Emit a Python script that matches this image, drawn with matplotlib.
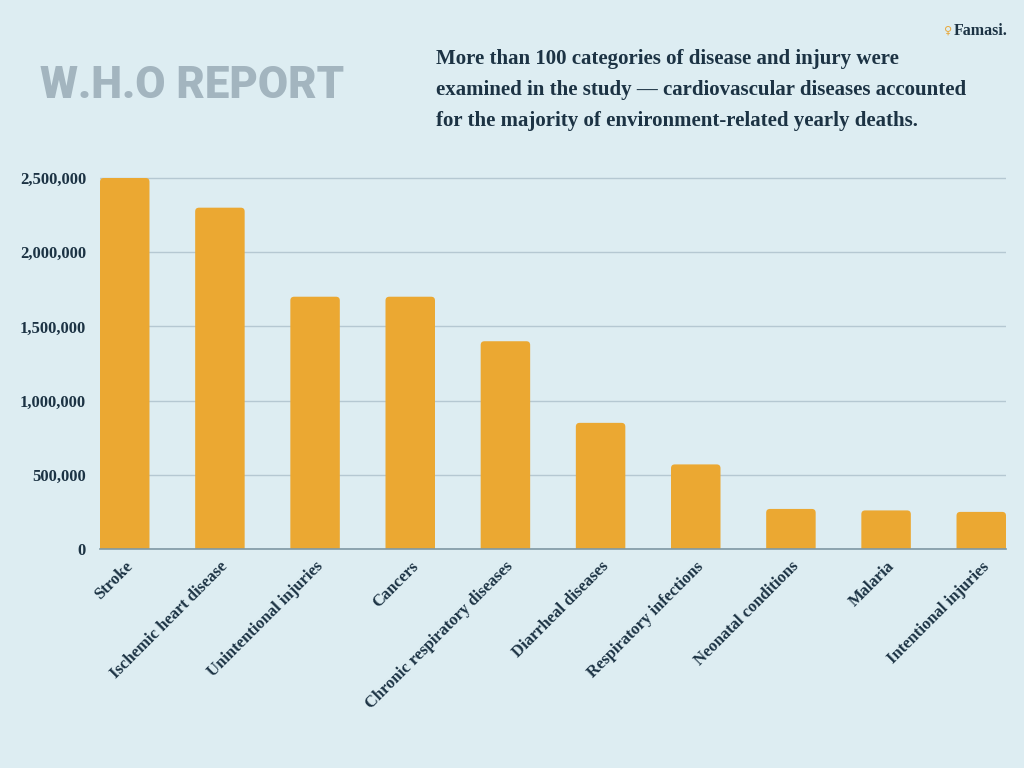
import matplotlib.pyplot as plt
from matplotlib.patches import FancyBboxPatch
from matplotlib.ticker import FuncFormatter

categories = [
    "Stroke",
    "Ischemic heart disease",
    "Unintentional injuries",
    "Cancers",
    "Chronic respiratory diseases",
    "Diarrheal diseases",
    "Respiratory infections",
    "Neonatal conditions",
    "Malaria",
    "Intentional injuries",
]
deaths = [2500000, 2300000, 1700000, 1700000, 1400000, 850000, 570000, 270000, 260000, 250000]
yticks = [0, 500000, 1000000, 1500000, 2000000, 2500000]

bg = "#ddedf2"
bar_color = "#eba832"
text_color = "#1c3344"
serif = ["Liberation Serif", "DejaVu Serif"]

fig = plt.figure(figsize=(10.24, 7.68), dpi=100, facecolor=bg)
ax = fig.add_axes([100 / 1024, 1 - 549 / 768, 906 / 1024, 380 / 768])
ax.set_facecolor(bg)

ymax = 2500000 * 380 / 371
ax.set_xlim(-0.26, len(categories) - 1 + 0.26)
ax.set_ylim(0, ymax)

bars = ax.bar(range(len(categories)), deaths, width=0.52, color=bar_color, zorder=3)
# small rounded corners on top of each bar
aspect = (ymax / 380) / ((len(categories) - 1 + 0.52) / 906)
for b in bars:
    b.set_visible(False)
    r = 0.04
    ax.add_patch(FancyBboxPatch((b.get_x(), -r * aspect * 2), b.get_width(),
                                b.get_height() + r * aspect * 2,
                                boxstyle=f"round,pad=0,rounding_size={r}",
                                mutation_aspect=aspect, fc=bar_color, ec="none",
                                zorder=3))

ax.set_yticks(yticks)
ax.yaxis.set_major_formatter(FuncFormatter(lambda v, p: f"{int(v):,}"))
ax.grid(axis="y", color="#b5c8d2", linewidth=1, zorder=0)
for s in ["top", "right", "left"]:
    ax.spines[s].set_visible(False)
ax.spines["bottom"].set_color("#7f98a4")
ax.spines["bottom"].set_linewidth(1.2)
ax.spines["bottom"].set_zorder(4)
ax.tick_params(axis="both", length=0, colors=text_color)
ax.tick_params(axis="y", pad=10)
ax.tick_params(axis="x", pad=7)

ax.set_xticks(range(len(categories)))
ax.set_xticklabels(categories, rotation=45, ha="right", rotation_mode="anchor")
for lab in ax.get_xticklabels() + ax.get_yticklabels():
    lab.set_family(serif)
    lab.set_fontweight("bold")
    lab.set_fontsize(12)
    lab.set_color(text_color)

fig.text(40 / 1024, 1 - 86 / 768, "W.H.O REPORT", fontsize=31.5, fontweight=900,
         family=["Roboto", "DejaVu Sans"], color="#a3b5bf", va="center", ha="left")

fig.text(436 / 1024, 1 - 90 / 768,
         "More than 100 categories of disease and injury were\n"
         "examined in the study \u2014 cardiovascular diseases accounted\n"
         "for the majority of environment-related yearly deaths.",
         fontsize=15, fontweight="bold", family=serif, color=text_color,
         va="center", ha="left", linespacing=1.73)

fig.text(1008 / 1024, 1 - 31 / 768, "Famasi.", fontsize=11.5, fontweight="bold",
         family=serif, color=text_color, va="center", ha="right")
fig.text(948 / 1024, 1 - 31 / 768, "\u2640", fontsize=8, color="#e8a83a",
         va="center", ha="center")

fig.savefig("out.png", dpi=100, facecolor=bg)
